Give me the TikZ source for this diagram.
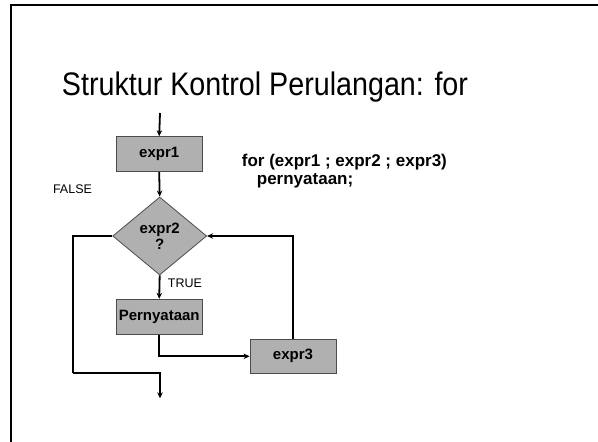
\documentclass[tikz,border=0pt]{standalone}
\usepackage{fontspec}
\setmainfont{Liberation Sans}
\usepackage{tikz}
\usetikzlibrary{shapes.geometric,arrows.meta}

\begin{document}
\begin{tikzpicture}[x=1pt, y=-1pt,
  kotak/.style={draw=black!70, line width=0.8pt, fill=gray!62, inner sep=0pt,
    minimum width=86pt, font=\fontsize{15}{17}\selectfont\bfseries},
  alir/.style={line width=1.8pt, -{Stealth[length=6pt,width=5.5pt]}},
  garis/.style={line width=1.8pt},
  label/.style={font=\fontsize{12.5}{14}\selectfont, inner sep=0pt}]
% Ukuran halaman
\useasboundingbox (0,0) rectangle (598,442);

% Bingkai slide
\draw[line width=2pt] (11,442) -- (11,5) -- (598,5);

% Judul
\node[anchor=base, inner sep=0pt, font=\fontsize{32.6}{35}\selectfont] (judul) at (265,95)
  {\scalebox{0.88}[1]{Struktur Kontrol Perulangan: for}};

% Kotak dan belah ketupat
\node[kotak, minimum height=35pt] (expr1) at (159.2,154.2) {expr1};
\node[diamond, draw=black!70, line width=0.8pt, fill=gray!62, inner sep=0pt,
  minimum width=94pt, minimum height=78pt, align=center,
  font=\fontsize{15}{17}\selectfont\bfseries] (expr2) at (159.7,236) {expr2\\[-1pt]?};
\node[kotak, minimum height=35pt] (stmt) at (159.2,316.7) {Pernyataan};
\node[kotak, minimum height=34pt] (expr3) at (293,356.3) {expr3};

% Sintaks for
\node[anchor=base west, inner sep=0pt, font=\fontsize{17}{19}\selectfont\bfseries] (sintaks1)
  at (241.7,166) {for (expr1 ; expr2 ; expr3)};
\node[anchor=base west, inner sep=0pt, font=\fontsize{17}{19}\selectfont\bfseries] (sintaks2)
  at (256.7,184) {pernyataan;};

% Label cabang
\node[label] (salah) at (72.5,189) {FALSE};
\node[label] (benar) at (185,283) {TRUE};

% Titik awal dan akhir
\coordinate (mulai) at (160,113);
\coordinate (belok) at (73.3,373.3);
\coordinate (selesai) at (160,398.3);

% Garis alir
\draw[alir] (mulai) -- (expr1.north);
\draw[alir] (expr1.south) -- (expr2.north);
\draw[alir] (expr2.south) -- (stmt.north);
\draw[alir] (stmt.south) |- (expr3.west);
\draw[alir] (expr3.north) |- (expr2.east);
\draw[garis] (expr2.west) -| (belok);
\draw[alir] (belok) -| (selesai);

\end{tikzpicture}
\end{document}
